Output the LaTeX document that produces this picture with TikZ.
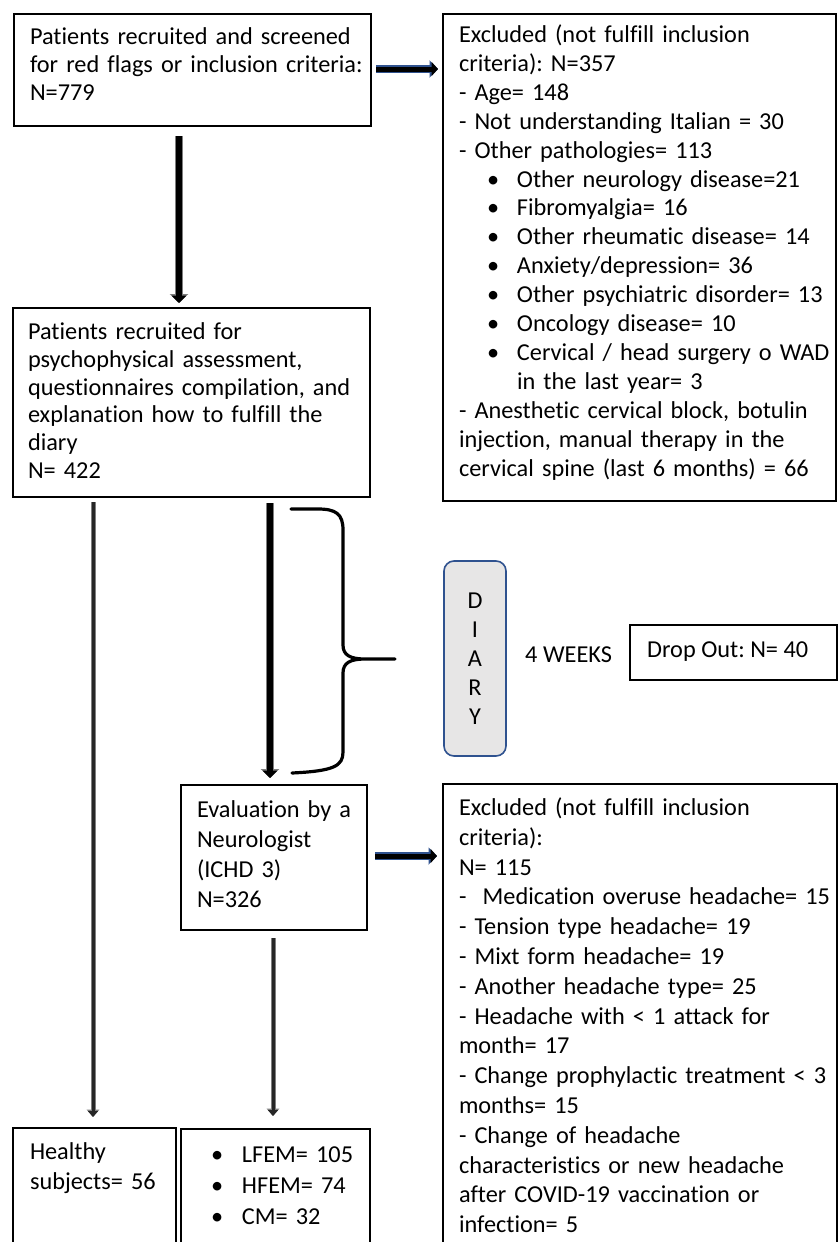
\documentclass[tikz,border=0pt]{standalone}
\usepackage{fontspec}
\setmainfont{Carlito}[Ligatures=NoCommon]
\usetikzlibrary{arrows.meta,calc}
\definecolor{arrowblue}{HTML}{2F528F}
\definecolor{arrowgrey}{HTML}{7F7F7F}
\definecolor{diaryfill}{HTML}{E7E6E6}
\frenchspacing
\begin{document}
\begin{tikzpicture}[x=1pt,y=-1pt,
  box/.style={draw=black, line width=2.6pt, anchor=north west, inner sep=0pt, outer sep=0pt},
  txt/.style={anchor=base west, inner sep=0pt, outer sep=0pt, align=left, text width=#1},
  fs/.style={font=\fontsize{24.3}{#1}\selectfont},
  thickarrow/.style={line width=5.5pt, black, -{Triangle[width=15pt,length=7.5pt]},
    preaction={draw, arrowgrey, line width=8pt, -{Triangle[width=18pt,length=9pt]}}},
  thinarrow/.style={line width=3pt, black!85, -{Triangle[width=10pt,length=6pt]},
    preaction={draw, arrowgrey, line width=5pt, -{Triangle[width=12.5pt,length=7.5pt]}}},
  bluearrow/.style={line width=5pt, black, -{Triangle[width=14pt,length=6.5pt]},
    preaction={draw, arrowblue, line width=7.5pt, -{Triangle[width=17pt,length=8.5pt]}}},
  diarybox/.style={draw=arrowblue, fill=diaryfill, line width=1.6pt, rounded corners=10pt,
    anchor=north west, inner sep=0pt, outer sep=0pt},
  bracepath/.style={draw=black, line width=3.2pt, line join=round, line cap=round}
]
\path[use as bounding box, fill=white] (0,0) rectangle (840,1242);
\clip (0,0) rectangle (840,1242);

% boxes
\node[box, minimum width=357pt, minimum height=112pt] (boxA) at (14,14) {};
\node[box, minimum width=357pt, minimum height=189pt] (boxB) at (13,308) {};
\node[box, minimum width=393pt, minimum height=487pt] (boxC) at (443,14) {};
\node[box, minimum width=207pt, minimum height=55pt] (drop) at (630,625) {};
\node[diarybox, minimum width=62pt, minimum height=195pt] (diary) at (444,561) {};
\node[box, minimum width=186pt, minimum height=145pt] (evalbox) at (181,785) {};
\node[box, minimum width=394pt, minimum height=480pt] (boxD) at (443,784) {};
\node[box, minimum width=163pt, minimum height=140pt] (healthy) at (13,1128) {};
\node[box, minimum width=189pt, minimum height=140pt] (groups) at (181,1129) {};

% texts
\node[txt=345pt, fs=28] (tA) at (30,44.5) {Patients recruited and screened\\for red flags or inclusion criteria:\\N=779};
\node[txt=345pt, fs=27.8] (tB) at (28,339.5) {Patients recruited for\\psychophysical assessment,\\questionnaires compilation, and\\explanation how to fulfill the\\diary\\N= 422};
\node[txt=378pt, fs=28.9] (tC) at (459,42.5) {Excluded (not fulfill inclusion\\criteria): N=357\\- Age= 148\\- Not understanding Italian = 30\\- Other pathologies= 113\\
\hspace*{28pt}\makebox[30pt][l]{•}Other neurology disease=21\\
\hspace*{28pt}\makebox[30pt][l]{•}Fibromyalgia= 16\\
\hspace*{28pt}\makebox[30pt][l]{•}Other rheumatic disease= 14\\
\hspace*{28pt}\makebox[30pt][l]{•}Anxiety/depression= 36\\
\hspace*{28pt}\makebox[30pt][l]{•}Other psychiatric disorder= 13\\
\hspace*{28pt}\makebox[30pt][l]{•}Oncology disease= 10\\
\hspace*{28pt}\makebox[30pt][l]{•}Cervical / head surgery o WAD\\
\hspace*{58pt}in the last year= 3\\
- Anesthetic cervical block, botulin\\injection, manual therapy in the\\cervical spine (last 6 months) = 66};
\node[anchor=base, inner sep=0pt, align=center, text width=30pt, fs=29] (tdiary) at (475,608) {D\\I\\A\\R\\Y};
\node[anchor=base west, inner sep=0pt, fs=29] (tweeks) at (525,662.5) {4 WEEKS};
\node[anchor=base west, inner sep=0pt, fs=29] (tdrop) at (647,657.5) {Drop Out: N= 40};
\node[txt=170pt, fs=30] (tE) at (197,817.5) {Evaluation by a\\Neurologist\\(ICHD 3)\\N=326};
\node[txt=378pt, fs=29.8] (tD) at (459,815.5) {Excluded (not fulfill inclusion\\criteria):\\N= 115\\-\ \ Medication overuse headache= 15\\- Tension type headache= 19\\- Mixt form headache= 19\\- Another headache type= 25\\- Headache with < 1 attack for\\month= 17\\- Change prophylactic treatment < 3\\months= 15\\- Change of headache\\characteristics or new headache\\after COVID-19 vaccination or\\infection= 5};
\node[txt=140pt, fs=30] (tH) at (30,1159.5) {Healthy\\subjects= 56};
\node[txt=170pt, fs=31] (tG) at (200,1162) {\hspace*{11pt}\makebox[31pt][l]{•}LFEM= 105\\\hspace*{11pt}\makebox[31pt][l]{•}HFEM= 74\\\hspace*{11pt}\makebox[31pt][l]{•}CM= 32};

% arrow reference coordinates
\coordinate (x179) at (179,0);
\coordinate (x270) at (270,0);
\coordinate (x93) at (93,0);
\coordinate (x273) at (273,0);
\coordinate (y69) at (0,69);
\coordinate (y856) at (0,856);

% connectors
\draw[thickarrow] ($(boxA.south -| x179)+(0,10)$) -- ($(boxB.north -| x179)+(0,-5)$);
\draw[bluearrow] ($(boxA.east |- y69)+(5,0)$) -- ($(boxC.west |- y69)+(-5,0)$);
\draw[thickarrow] ($(boxB.south -| x270)+(0,6)$) -- ($(evalbox.north -| x270)+(0,-7)$);
\draw[thinarrow] ($(boxB.south -| x93)+(0,5)$) -- ($(healthy.north -| x93)+(0,-11)$);
\draw[thinarrow] ($(evalbox.south -| x273)+(0,8)$) -- ($(groups.north -| x273)+(0,-13)$);
\draw[bluearrow] ($(evalbox.east |- y856)+(8,0)$) -- ($(boxD.west |- y856)+(-6,0)$);

% brace
\draw[bracepath] (291,509) -- (318,509) .. controls (336,509) and (343,514) .. (343,530)
  -- (343,645) .. controls (343,655) and (350,659) .. (365,659) -- (395,659)
  (365,659) .. controls (350,659) and (343,663) .. (343,673)
  -- (343,752) .. controls (343,766) and (334,771) .. (292,773);
\end{tikzpicture}
\end{document}
